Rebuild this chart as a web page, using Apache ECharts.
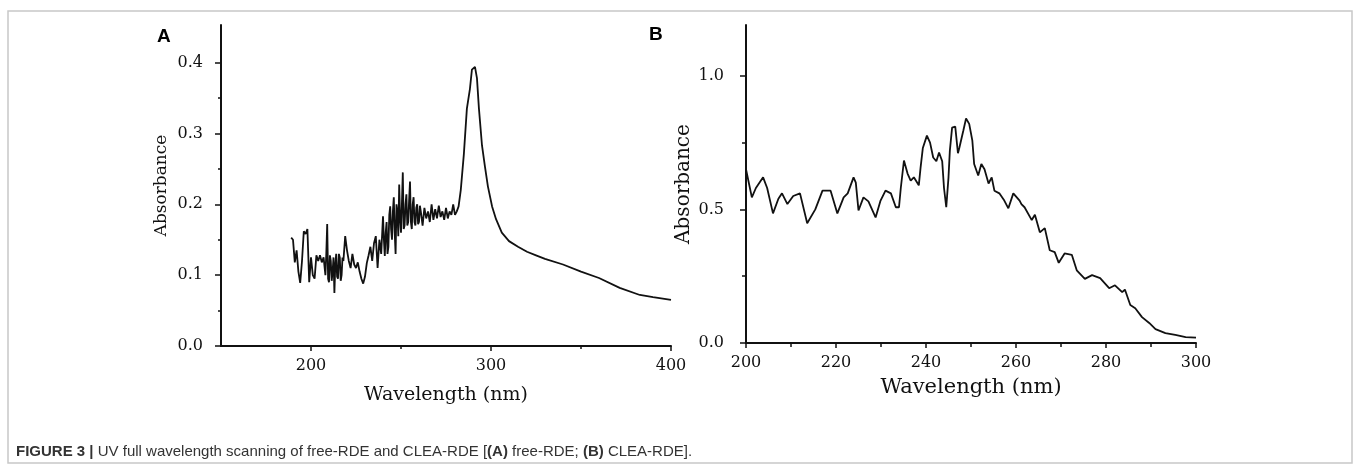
<!DOCTYPE html>
<html>
<head>
<meta charset="utf-8">
<script src="https://cdn.jsdelivr.net/npm/echarts@6/dist/echarts.min.js"></script>
<style>
html,body{margin:0;padding:0;background:#fff;}
#chart{width:1360px;height:469px;}
</style>
</head>
<body>
<div id="chart"></div>
<script>
// ---- Panel A: free-RDE ----
const waveA = [189,190,191,192,193,194,195,196,197,198,199,200,201,202,203,204,205,206,207,
  208,208.5,209,209.5,210,210.5,211,211.5,212,212.5,213,213.5,214,214.5,215,215.5,216,216.5,217,217.5,218,
  219,220,221,222,223,224,225,226,227,228,229,230,231,232,233,234,235,236,237,238,239,
  240,240.5,241,241.5,242,242.5,243,243.5,244,244.5,245,245.5,246,246.5,247,247.5,248,248.5,249,249.5,250,250.5,
  251,251.5,252,252.5,253,253.5,254,254.5,255,255.5,256,256.5,257,257.5,258,258.5,259,259.5,260,260.5,261,261.5,262,
  263,264,265,266,267,268,269,270,271,272,273,274,275,276,277,278,279,280,281,282,
  283.2,284.9,286.6,288.3,289.4,291.1,292.2,293.3,295,296.6,298.3,300.6,302.8,306,310,315,320,325,330,340,350,360,371.5,382.7,390,400];
const absA = [0.153,0.150,0.118,0.135,0.105,0.089,0.120,0.162,0.158,0.165,0.090,0.125,0.100,0.095,0.128,0.120,0.128,0.118,0.125,
  0.100,0.130,0.172,0.095,0.090,0.128,0.120,0.092,0.105,0.125,0.075,0.115,0.130,0.098,0.095,0.130,0.125,0.092,0.100,0.125,0.120,
  0.155,0.135,0.120,0.110,0.130,0.115,0.110,0.118,0.105,0.095,0.088,0.098,0.117,0.128,0.140,0.120,0.145,0.155,0.110,0.150,0.130,
  0.183,0.150,0.127,0.160,0.175,0.130,0.140,0.185,0.197,0.165,0.150,0.190,0.210,0.160,0.130,0.200,0.190,0.155,0.228,0.180,0.160,0.200,
  0.245,0.165,0.170,0.200,0.214,0.170,0.175,0.205,0.232,0.175,0.165,0.200,0.210,0.175,0.170,0.195,0.200,0.172,0.175,0.198,0.190,0.180,0.170,
  0.195,0.180,0.190,0.175,0.200,0.178,0.193,0.180,0.198,0.182,0.190,0.178,0.195,0.180,0.190,0.185,0.200,0.185,0.190,0.197,
  0.220,0.270,0.335,0.363,0.390,0.394,0.378,0.335,0.283,0.254,0.225,0.197,0.179,0.160,0.148,0.140,0.133,0.128,0.123,0.115,0.105,0.096,0.082,0.072,0.069,0.065];

// ---- Panel B: CLEA-RDE ----
const waveB = [200,201.3,202.2,203.8,204.7,206,207.2,208,209.2,210.5,212,213.6,215.4,217,218.8,220.3,221.7,222.6,223.9,224.4,225,226.1,227.2,228.8,229.9,231,232.2,233.3,234,234.4,235.1,235.9,236.6,237.3,238.4,238.8,239.3,240.2,240.9,241.6,242.3,242.9,243.6,244,244.5,245,245.3,245.8,246.5,247.1,247.4,248.3,248.9,249.6,250.3,250.7,251.6,252.3,253,253.9,254.6,255.2,256.3,257.4,258.3,259.4,260.8,261.2,261.9,263.5,264.2,265.3,266.4,267.5,268.6,269.5,270.8,272.4,273.5,275.3,276.9,278.7,280.7,282,283.6,284.2,285.4,286.5,288,289.6,291,293.2,295.4,297.7,300];
const absB = [0.65,0.545,0.58,0.62,0.58,0.485,0.54,0.56,0.52,0.55,0.56,0.448,0.5,0.57,0.57,0.485,0.545,0.56,0.62,0.6,0.496,0.545,0.53,0.47,0.533,0.57,0.56,0.508,0.508,0.58,0.683,0.634,0.608,0.62,0.59,0.657,0.73,0.776,0.75,0.694,0.68,0.713,0.68,0.58,0.508,0.62,0.72,0.806,0.81,0.71,0.73,0.795,0.84,0.82,0.757,0.67,0.627,0.67,0.65,0.597,0.62,0.57,0.56,0.533,0.504,0.56,0.533,0.52,0.508,0.46,0.48,0.414,0.43,0.347,0.34,0.3,0.335,0.33,0.272,0.24,0.254,0.243,0.205,0.216,0.19,0.2,0.142,0.13,0.097,0.075,0.052,0.037,0.03,0.022,0.02];

// ---- tick labels ----
const xTicksA = [200, 300, 400];
const xMinorA = [250, 350];
const yTicksA = [0, 0.1, 0.2, 0.3, 0.4];
const yMinorA = [0.05, 0.15, 0.25, 0.35];
const xTicksB = [200, 220, 240, 260, 280, 300];
const xMinorB = [210, 230, 250, 270, 290];
const yTicksB = [0, 0.5, 1.0];
const yMinorB = [0.25, 0.75];

const pairs = (xs, ys) => xs.map((x, i) => [x, ys[i]]);
const INK = '#111';
const serif = 'DejaVu Serif';

function xAx(grid, min, max, ticks, labels, name, nameSize, nameGap, len) {
  return {
    type: 'value', gridIndex: grid, min: min, max: max, position: 'bottom',
    axisLine: labels ? {show: true, lineStyle: {color: INK, width: 2}} : {show: false},
    axisTick: {show: true, inside: false, length: len, customValues: ticks, lineStyle: {color: INK, width: 1.5}},
    axisLabel: labels ? {show: true, customValues: ticks, margin: 12, color: INK, fontFamily: serif, fontSize: 16,
      formatter: v => String(Math.round(v))} : {show: false},
    splitLine: {show: false},
    name: labels ? name : '', nameLocation: 'middle', nameGap: nameGap,
    nameTextStyle: {color: INK, fontFamily: serif, fontSize: nameSize}
  };
}
function yAx(grid, max, ticks, labels, name, nameSize, nameGap, len, margin) {
  return {
    type: 'value', gridIndex: grid, min: 0, max: max, position: 'left',
    axisLine: labels ? {show: true, lineStyle: {color: INK, width: 2}} : {show: false},
    axisTick: {show: true, inside: false, length: len, customValues: ticks, lineStyle: {color: INK, width: 1.5}},
    axisLabel: labels ? {show: true, customValues: ticks, margin: margin, color: INK, fontFamily: serif, fontSize: 16,
      formatter: v => v.toFixed(1)} : {show: false},
    splitLine: {show: false},
    name: labels ? name : '', nameLocation: 'middle', nameGap: nameGap, nameRotate: 90,
    nameTextStyle: {color: INK, fontFamily: serif, fontSize: nameSize}
  };
}

const chart = echarts.init(document.getElementById('chart'), null, {renderer: 'canvas'});
chart.setOption({
  animation: false,
  backgroundColor: '#fff',
  grid: [
    {left: 221, top: 25, width: 450, height: 321},
    {left: 746, top: 25, width: 450, height: 318}
  ],
  xAxis: [
    xAx(0, 150, 400, xTicksA, true, 'Wavelength (nm)', 19, 40, 5),
    xAx(0, 150, 400, xMinorA, false, '', 19, 40, 3),
    xAx(1, 200, 300, xTicksB, true, 'Wavelength (nm)', 21, 34, 5),
    xAx(1, 200, 300, xMinorB, false, '', 21, 34, 4)
  ],
  yAxis: [
    yAx(0, 0.453, yTicksA, true, 'Absorbance', 17, 51, 6, 18),
    yAx(0, 0.453, yMinorA, false, '', 17, 51, 3, 18),
    yAx(1, 1.19, yTicksB, true, 'Absorbance', 20, 52, 6, 22),
    yAx(1, 1.19, yMinorB, false, '', 20, 52, 4, 22)
  ],
  series: [
    {type: 'line', xAxisIndex: 0, yAxisIndex: 0, data: pairs(waveA, absA), showSymbol: false,
      lineStyle: {color: INK, width: 1.8}, silent: true},
    {type: 'line', xAxisIndex: 2, yAxisIndex: 2, data: pairs(waveB, absB), showSymbol: false,
      lineStyle: {color: INK, width: 1.8}, silent: true}
  ],
  graphic: [
    {type: 'rect', shape: {x: 8, y: 11, width: 1344, height: 452}, style: {fill: 'none', stroke: '#c8c8c8', lineWidth: 1.5}, z: -1},
    {type: 'text', left: 157, top: 27, style: {text: 'A', fontFamily: 'Liberation Sans', fontWeight: 'bold', fontSize: 19, fill: '#000'}},
    {type: 'text', left: 649, top: 25, style: {text: 'B', fontFamily: 'Liberation Sans', fontWeight: 'bold', fontSize: 19, fill: '#000'}},
    {type: 'text', left: 16, top: 444, style: {
      text: '{b|FIGURE 3 |} UV full wavelength scanning of free-RDE and CLEA-RDE [{b|(A)} free-RDE; {b|(B)} CLEA-RDE].',
      fontFamily: 'Liberation Sans', fontSize: 15, fill: '#333',
      rich: {b: {fontFamily: 'Liberation Sans', fontWeight: 'bold', fontSize: 15, fill: '#333'}}
    }}
  ]
});
</script>
</body>
</html>
